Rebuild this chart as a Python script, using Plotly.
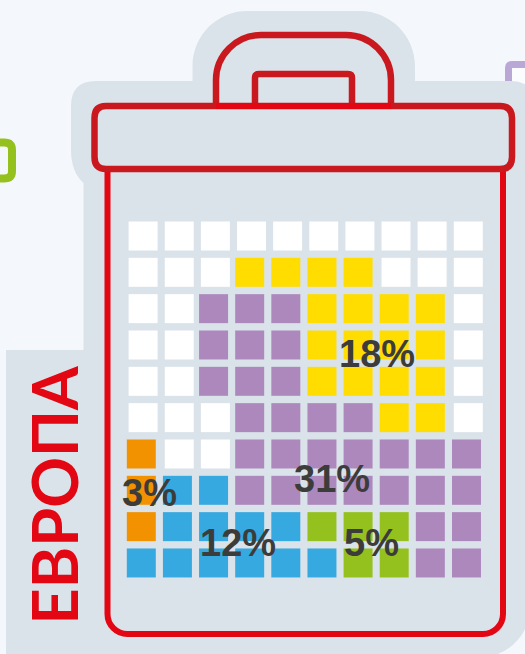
import re
import plotly.graph_objects as go

# Waffle grid, top row first: E empty, Y, P, B, G, O
grid_rows = [
    "EEEEEEEEEE",
    "EEEYYYYEEE",
    "EEPPPYYYYE",
    "EEPPPYYYYE",
    "EEPPPYYYYE",
    "EEEPPPPYYE",
    "OEEPPPPPPP",
    "OBBPPPPPPP",
    "OBBBBGGGPP",
    "BBBBBBGGPP",
]
codes = ["E", "Y", "P", "B", "G", "O"]
colors = ["#ffffff", "#ffdd00", "#ad88bd", "#36a9e1", "#95c11f", "#f39200"]
title = "ЕВРОПА"

W, H = 525, 654
BG, HALO, RED, DARK = "#f4f8fc", "#dae3ea", "#e30613", "#c9191e"
INK = "#3c3c3b"

# pixel placement of grid on the page
COL0, COLSTEP = 141.3, 36.13
ROW9, ROWSTEP = 236.0, 36.33


def path(s):
    toks = s.split()
    out, isx = [], True
    for t in toks:
        if re.fullmatch(r"[A-Za-z]", t):
            out.append(t)
        elif isx:
            out.append(f"{float(t) / W:.5f}")
            isx = False
        else:
            out.append(f"{1 - float(t) / H:.5f}")
            isx = True
    return " ".join(out)


def shape(s, color=None, width=0, fill=None):
    return dict(
        type="path", xref="paper", yref="paper", path=path(s), layer="below",
        line=dict(color=color or "rgba(0,0,0,0)", width=width),
        fillcolor=fill or "rgba(0,0,0,0)",
    )


shapes = [
    # fragments of neighbouring bins
    shape("M 508.5 95 L 508.5 68 Q 508.5 64.5 512 64.5 L 530 64.5 L 530 95 Z", "#b9a8d6", 7, "#fbfcfe"),
    shape("M -5 142.5 L 4 142.5 Q 12 142.5 12 150 L 12 171 Q 12 178.5 4 178.5 L -5 178.5", "#95c11f", 8),
    # halo silhouette
    shape("M 192.5 81 L 192.5 66 C 192.5 35.6 217.1 11 247 11 L 360 11 C 390 11 415 35.6 415 66 L 415 81 "
          "L 510 81 Q 535 81 535 106 L 533 590 Q 533 660 463 660 L 6 660 L 6 350 L 83.5 350 "
          "L 83.5 183 Q 71 172 71 150 L 71 106 Q 71 81 96 81 Z", fill=HALO),
    # bin outline
    shape("M 216 106 L 216 80 C 216 55.2 236.2 35 261 35 L 346 35 C 370.8 35 391 55.2 391 80 L 391 106", DARK, 6.5),
    shape("M 255 106 L 255 78 Q 255 74 259 74 L 348 74 Q 352 74 352 78 L 352 106", DARK, 6.5),
    shape("M 107.5 169 L 107.5 614 C 107.5 625 116.5 634 127.5 634 L 483 634 C 494 634 503 625 503 614 L 503 169", RED, 6),
    shape("M 106 106 L 500 106 Q 512 106 512 118 L 512 157 Q 512 169 500 169 L 106 169 "
          "Q 94.5 169 94.5 157 L 94.5 118 Q 94.5 106 106 106 Z", DARK, 6.5),
    shape("M 216 106 L 391 106", RED, 6),
]

fig = go.Figure()
for code, color in zip(codes, colors):
    xs, ys = [], []
    for r, row in enumerate(grid_rows):
        for c, ch in enumerate(row):
            if ch == code:
                # empty cells sit slightly to the right in the reference
                xs.append(c + (0.05 if code == "E" else 0))
                ys.append(9 - r)
    fig.add_trace(go.Scatter(
        x=xs, y=ys, mode="markers", name=code, hoverinfo="skip",
        marker=dict(symbol="square", size=29, color=color, line=dict(width=0)),
    ))

label_pos = {"18%": (377, 354), "31%": (332, 479), "12%": (238, 543), "5%": (371, 543), "3%": (149, 493)}
annotations = [
    dict(text=t, x=p[0] / W, y=1 - p[1] / H, xref="paper", yref="paper", showarrow=False,
         xanchor="center", yanchor="middle", font=dict(family="Liberation Sans", size=38, color=INK, weight="bold"))
    for t, p in label_pos.items()
]
annotations.append(dict(
    text=title, x=52.5 / W, y=1 - 495 / H, xref="paper", yref="paper", showarrow=False, textangle=-90,
    xanchor="center", yanchor="middle", font=dict(family="Lato", size=63, color=RED, weight="bold"),
))

fig.update_layout(
    width=W, height=H, margin=dict(l=0, r=0, t=0, b=0), autosize=False,
    paper_bgcolor=BG, plot_bgcolor="rgba(0,0,0,0)", showlegend=False,
    shapes=shapes, annotations=annotations,
    xaxis=dict(visible=False, range=[-COL0 / COLSTEP, (W - COL0) / COLSTEP], fixedrange=True),
    yaxis=dict(visible=False, range=[9 - (H - ROW9) / ROWSTEP, 9 + ROW9 / ROWSTEP], fixedrange=True),
)
fig.write_html("out.html", config=dict(displayModeBar=False),
               post_script="document.body.style.margin='0';document.body.style.overflow='hidden';")
